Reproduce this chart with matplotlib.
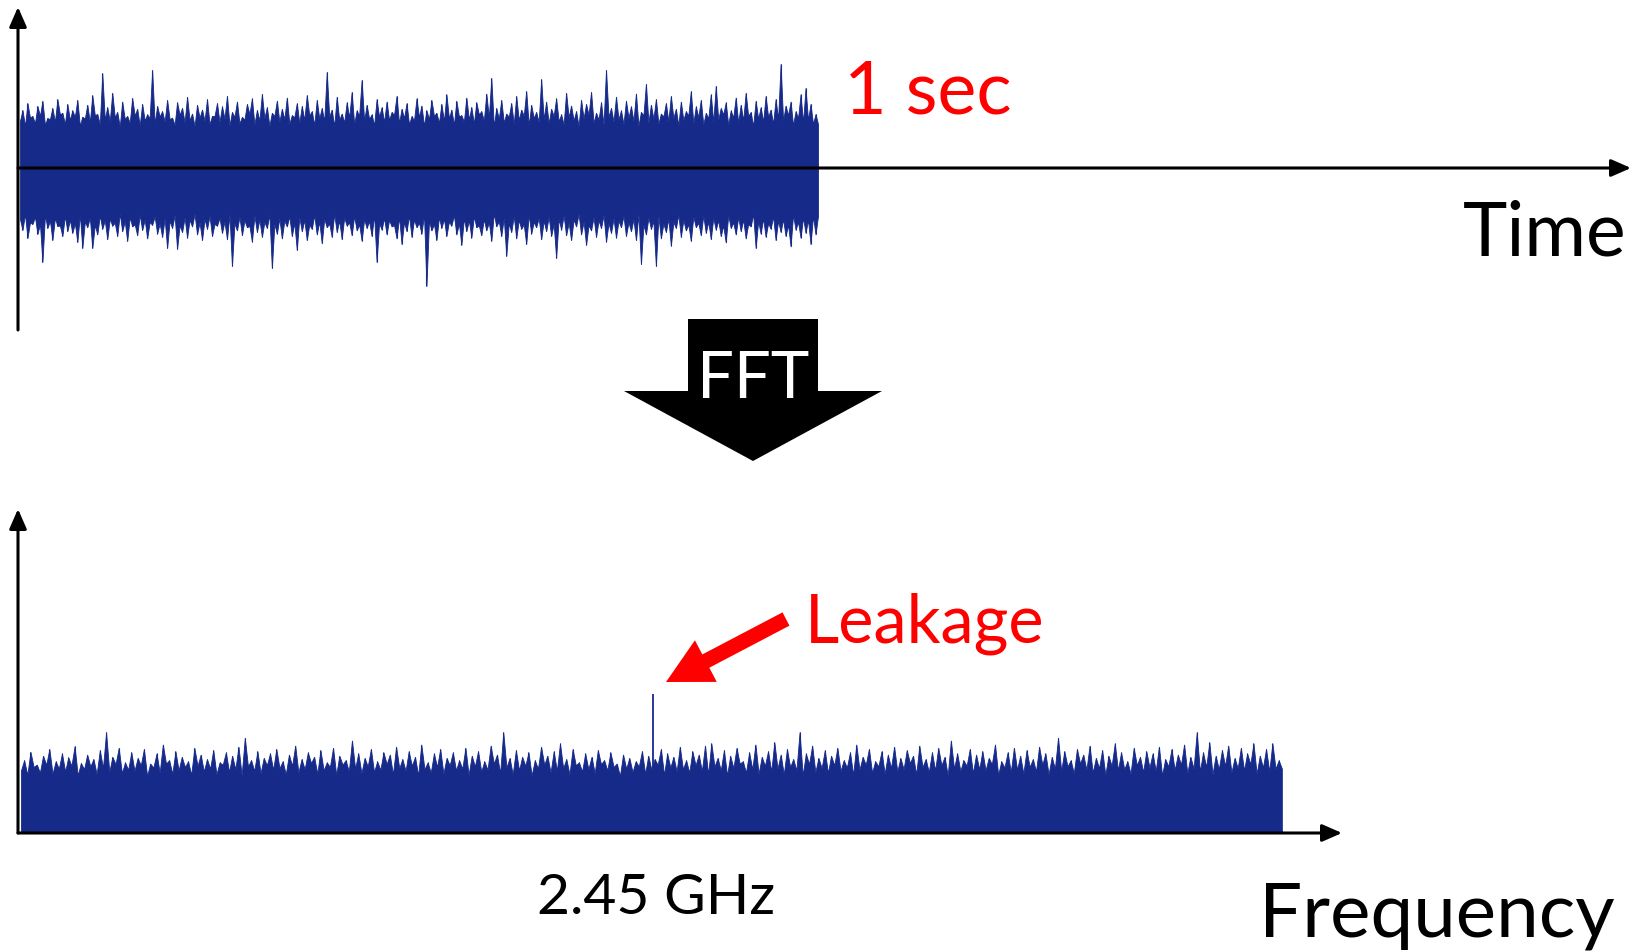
import numpy as np
import matplotlib
matplotlib.use("Agg")
import matplotlib.pyplot as plt
from matplotlib.patches import Polygon, FancyArrow

plt.rcParams['font.family'] = ['Lato', 'DejaVu Sans']

BLUE = '#162a8a'

# time signal: 1 sec of noise, spike tops and the dips between them
duration = 1.0
peaks_pos = [
    1.45, 1.62, 1.30, 1.55, 1.68, 1.25, 1.50, 1.72, 1.38, 1.60,
    1.44, 1.70, 1.28, 1.58, 1.82, 1.35, 2.37, 1.52, 1.88, 1.40,
    1.66, 1.30, 1.75, 1.48, 1.60, 1.34, 2.45, 1.55, 1.42, 1.70,
    1.26, 1.64, 1.50, 1.78, 1.36, 1.58, 1.46, 1.72, 1.30, 1.62,
    1.54, 1.80, 1.40, 1.66, 1.28, 1.60, 1.74, 1.45, 1.85, 1.52,
    1.38, 1.68, 1.48, 1.76, 1.32, 1.62, 1.55, 1.82, 1.42, 1.70,
    1.50, 2.40, 1.46, 1.78, 1.36, 1.64, 1.90, 1.44, 2.20, 1.58,
    1.34, 1.72, 1.52, 1.66, 1.40, 1.80, 1.48, 1.62, 1.30, 1.74,
    1.56, 1.44, 1.70, 1.38, 1.60, 1.84, 1.46, 1.68, 1.32, 1.76,
    1.52, 1.64, 1.42, 1.86, 2.25, 1.50, 1.70, 1.36, 1.62, 1.80,
    1.46, 1.92, 1.58, 1.40, 2.22, 1.66, 1.48, 1.74, 1.34, 1.88,
    1.56, 1.42, 1.70, 1.60, 1.90, 1.38, 1.64, 2.45, 1.50, 1.78,
    1.44, 1.68, 1.54, 1.86, 1.40, 2.10, 1.58, 1.72, 1.36, 1.62,
    1.80, 1.48, 1.66, 1.42, 1.92, 1.54, 1.70, 1.38, 1.84, 2.05,
    1.50, 1.64, 1.44, 1.76, 1.58, 1.88, 1.40, 1.68, 1.52, 1.80,
    1.46, 1.72, 2.60, 1.56, 1.66, 1.42, 1.84, 2.00, 1.60, 1.35,
]
dips_pos = [
    1.18, 1.05, 1.26, 1.12, 1.30, 1.08, 1.22, 1.15, 1.34, 1.10,
    1.20, 1.28, 1.06, 1.24, 1.14, 1.32, 1.09, 1.21, 1.17, 1.27,
    1.04, 1.23, 1.13, 1.31, 1.07, 1.19, 1.25, 1.11, 1.29, 1.16,
    1.22, 1.08, 1.33, 1.14, 1.20, 1.05, 1.26, 1.18, 1.10, 1.30,
    1.15, 1.24, 1.07, 1.28, 1.12, 1.21, 1.35, 1.09, 1.19, 1.25,
    1.06, 1.30, 1.16, 1.22, 1.11, 1.27, 1.13, 1.20, 1.32, 1.08,
    1.24, 1.17, 1.29, 1.05, 1.21, 1.14, 1.26, 1.10, 1.31, 1.18,
    1.23, 1.07, 1.28, 1.15, 1.20, 1.33, 1.12, 1.25, 1.09, 1.19,
    1.27, 1.06, 1.22, 1.30, 1.13, 1.17, 1.24, 1.08, 1.29, 1.16,
    1.21, 1.11, 1.34, 1.18, 1.26, 1.04, 1.23, 1.14, 1.28, 1.10,
    1.20, 1.31, 1.07, 1.25, 1.15, 1.22, 1.12, 1.30, 1.17, 1.09,
    1.27, 1.19, 1.05, 1.24, 1.33, 1.13, 1.21, 1.08, 1.28, 1.16,
    1.22, 1.10, 1.26, 1.18, 1.06, 1.32, 1.14, 1.23, 1.11, 1.29,
    1.17, 1.25, 1.07, 1.20, 1.31, 1.12, 1.27, 1.09, 1.24, 1.15,
    1.21, 1.34, 1.08, 1.26, 1.13, 1.19, 1.30, 1.05, 1.23, 1.16,
    1.28, 1.11, 1.22, 1.18, 1.32, 1.07, 1.25, 1.14, 1.20, 1.10,
]
peaks_neg = [
    1.55, 1.75, 1.40, 1.65, 2.35, 1.50, 1.80, 1.45, 1.70, 1.58,
    1.62, 1.85, 2.00, 1.48, 2.00, 1.66, 1.52, 1.78, 1.44, 1.70,
    1.58, 1.82, 1.46, 1.68, 1.55, 1.76, 1.42, 1.64, 1.72, 2.00,
    1.50, 2.02, 1.60, 1.74, 1.46, 1.66, 1.80, 1.52, 1.70, 1.44,
    1.62, 1.78, 2.45, 1.56, 1.68, 1.48, 1.84, 1.60, 1.72, 1.50,
    2.50, 1.64, 1.76, 1.46, 1.70, 2.05, 1.58, 1.80, 1.52, 1.66,
    1.88, 1.48, 1.72, 1.60, 1.78, 1.44, 1.68, 1.56, 1.82, 1.50,
    1.70, 2.35, 1.54, 1.66, 1.46, 1.76, 1.90, 1.58, 1.72, 1.48,
    1.64, 2.95, 1.56, 1.80, 1.50, 1.70, 1.44, 1.66, 1.92, 1.58,
    1.74, 1.48, 1.68, 1.56, 1.82, 1.46, 1.70, 2.20, 1.60, 1.76,
    1.52, 1.90, 1.64, 1.48, 1.78, 1.58, 1.70, 2.25, 1.54, 1.68,
    1.80, 1.46, 1.66, 1.92, 1.56, 1.72, 1.50, 1.84, 1.62, 1.74,
    1.48, 1.70, 1.58, 1.80, 2.40, 1.66, 1.52, 2.45, 1.76, 1.60,
    1.94, 1.50, 1.72, 1.56, 1.82, 1.48, 1.68, 1.62, 1.78, 1.54,
    1.70, 1.86, 1.50, 1.66, 1.58, 1.76, 1.46, 2.00, 1.64, 1.72,
    1.52, 1.80, 1.60, 1.70, 1.96, 1.54, 1.74, 1.62, 1.90, 1.66,
]
dips_neg = [
    1.28, 1.15, 1.36, 1.22, 1.40, 1.18, 1.32, 1.25, 1.44, 1.20,
    1.30, 1.38, 1.16, 1.34, 1.24, 1.42, 1.19, 1.31, 1.27, 1.37,
    1.14, 1.33, 1.23, 1.41, 1.17, 1.29, 1.35, 1.21, 1.39, 1.26,
    1.32, 1.18, 1.43, 1.24, 1.30, 1.15, 1.36, 1.28, 1.20, 1.40,
    1.25, 1.34, 1.17, 1.38, 1.22, 1.31, 1.45, 1.19, 1.29, 1.35,
    1.16, 1.40, 1.26, 1.32, 1.21, 1.37, 1.23, 1.30, 1.42, 1.18,
    1.34, 1.27, 1.39, 1.15, 1.31, 1.24, 1.36, 1.20, 1.41, 1.28,
    1.33, 1.17, 1.38, 1.25, 1.30, 1.43, 1.22, 1.35, 1.19, 1.29,
    1.37, 1.16, 1.32, 1.40, 1.23, 1.27, 1.34, 1.18, 1.39, 1.26,
    1.31, 1.21, 1.44, 1.28, 1.36, 1.14, 1.33, 1.24, 1.38, 1.20,
    1.30, 1.41, 1.17, 1.35, 1.25, 1.32, 1.22, 1.40, 1.27, 1.19,
    1.37, 1.29, 1.15, 1.34, 1.43, 1.23, 1.31, 1.18, 1.38, 1.26,
    1.32, 1.20, 1.36, 1.28, 1.16, 1.42, 1.24, 1.33, 1.21, 1.39,
    1.27, 1.35, 1.17, 1.30, 1.41, 1.22, 1.37, 1.19, 1.34, 1.25,
    1.31, 1.44, 1.18, 1.36, 1.23, 1.29, 1.40, 1.15, 1.33, 1.26,
    1.38, 1.21, 1.32, 1.28, 1.42, 1.17, 1.35, 1.24, 1.30, 1.20,
]

# spectrum: noise floor with the leakage line at 2.45 GHz
band_end = 4.887   # GHz
spec_peaks = [
    1.30, 1.45, 1.22, 1.38, 1.50, 1.28, 1.42, 1.35, 1.55, 1.25,
    1.40, 1.32, 1.48, 1.80, 1.36, 1.52, 1.26, 1.44, 1.34, 1.50,
    1.24, 1.42, 1.58, 1.30, 1.46, 1.36, 1.28, 1.52, 1.40, 1.32,
    1.48, 1.26, 1.44, 1.38, 1.54, 1.70, 1.30, 1.46, 1.34, 1.42,
    1.50, 1.28, 1.40, 1.56, 1.32, 1.44, 1.36, 1.48, 1.26, 1.52,
    1.38, 1.30, 1.65, 1.42, 1.34, 1.50, 1.28, 1.44, 1.40, 1.54,
    1.32, 1.46, 1.36, 1.58, 1.26, 1.42, 1.50, 1.34, 1.44, 1.30,
    1.52, 1.38, 1.46, 1.28, 1.56, 1.40, 1.80, 1.34, 1.48, 1.36,
    1.44, 1.30, 1.54, 1.38, 1.46, 1.60, 1.32, 1.50, 1.26, 1.42,
    1.36, 1.48, 1.30, 1.44, 1.24, 1.40, 1.34, 1.28, 1.46, 1.38,
    1.32, 1.50, 1.42, 1.36, 1.54, 1.30, 1.46, 1.40, 1.56, 1.60,
    1.34, 1.48, 1.38, 1.52, 1.28, 1.44, 1.58, 1.36, 1.46, 1.62,
    1.40, 1.50, 1.32, 1.80, 1.42, 1.56, 1.34, 1.48, 1.38, 1.52,
    1.30, 1.44, 1.58, 1.36, 1.50, 1.28, 1.46, 1.40, 1.54, 1.34,
    1.48, 1.38, 1.56, 1.32, 1.44, 1.52, 1.36, 1.65, 1.42, 1.30,
    1.50, 1.40, 1.46, 1.34, 1.58, 1.28, 1.44, 1.52, 1.38, 1.48,
    1.32, 1.54, 1.42, 1.36, 1.70, 1.46, 1.30, 1.50, 1.40, 1.56,
    1.34, 1.48, 1.38, 1.60, 1.44, 1.28, 1.52, 1.36, 1.46, 1.42,
    1.54, 1.32, 1.50, 1.40, 1.58, 1.36, 1.80, 1.44, 1.62, 1.38,
    1.48, 1.56, 1.34, 1.52, 1.42, 1.60, 1.38, 1.50, 1.60, 1.30,
]
spec_dips = [
    1.12, 1.04, 1.18, 1.08, 1.22, 1.06, 1.15, 1.10, 1.20, 1.03,
    1.14, 1.19, 1.05, 1.16, 1.09, 1.23, 1.07, 1.13, 1.11, 1.21,
    1.02, 1.17, 1.08, 1.24, 1.06, 1.12, 1.18, 1.04, 1.20, 1.10,
    1.15, 1.05, 1.22, 1.09, 1.14, 1.03, 1.19, 1.11, 1.07, 1.21,
    1.13, 1.16, 1.05, 1.20, 1.08, 1.14, 1.25, 1.06, 1.12, 1.18,
    1.04, 1.22, 1.10, 1.15, 1.07, 1.19, 1.09, 1.13, 1.23, 1.05,
    1.16, 1.11, 1.20, 1.03, 1.14, 1.08, 1.18, 1.06, 1.21, 1.12,
    1.15, 1.04, 1.19, 1.10, 1.13, 1.24, 1.07, 1.17, 1.05, 1.12,
    1.20, 1.03, 1.15, 1.22, 1.08, 1.11, 1.16, 1.05, 1.21, 1.10,
    1.14, 1.07, 1.23, 1.12, 1.18, 1.02, 1.15, 1.09, 1.19, 1.06,
    1.13, 1.22, 1.04, 1.17, 1.10, 1.14, 1.08, 1.21, 1.11, 1.05,
    1.19, 1.12, 1.03, 1.16, 1.24, 1.08, 1.14, 1.06, 1.20, 1.10,
    1.15, 1.05, 1.18, 1.12, 1.03, 1.23, 1.09, 1.16, 1.07, 1.21,
    1.11, 1.17, 1.04, 1.13, 1.22, 1.08, 1.19, 1.06, 1.16, 1.10,
    1.14, 1.25, 1.05, 1.18, 1.09, 1.12, 1.21, 1.03, 1.15, 1.11,
    1.20, 1.07, 1.14, 1.12, 1.23, 1.04, 1.17, 1.09, 1.13, 1.06,
    1.18, 1.10, 1.22, 1.05, 1.15, 1.11, 1.19, 1.07, 1.24, 1.13,
    1.08, 1.16, 1.04, 1.20, 1.12, 1.14, 1.06, 1.21, 1.09, 1.17,
    1.11, 1.03, 1.19, 1.13, 1.22, 1.07, 1.15, 1.10, 1.18, 1.05,
    1.14, 1.20, 1.08, 1.16, 1.12, 1.23, 1.06, 1.17, 1.10, 1.15,
]
leak_freq = 2.45
leak_level = 2.48


def envelope(span, dips, peaks):
    # dip at the start of each slot, spike top in its middle
    k = len(peaks)
    step = span / k
    x = np.empty(2 * k + 1)
    y = np.empty(2 * k + 1)
    x[0:-1:2] = np.arange(k) * step
    x[1::2] = (np.arange(k) + 0.5) * step
    x[-1] = span
    y[0:-1:2] = dips
    y[1::2] = peaks
    y[-1] = dips[-1]
    return x, y


W, H = 1643, 953
fig = plt.figure(figsize=(W / 100, H / 100), dpi=100)

# ---- top: time signal (pixel geometry of the picture)
T0, TS = 20, 798      # px of t=0, px per second
A0, AS = 169, 40      # px of zero line, px per unit
ax1 = fig.add_axes([0, 1 - 345 / H, 1, 345 / H])
ax1.set_xlim((0 - T0) / TS, (W - T0) / TS)
ax1.set_ylim((A0 - 345) / AS, A0 / AS)
ax1.axis('off')

tx, up = envelope(duration, dips_pos, peaks_pos)
_, down = envelope(duration, dips_neg, peaks_neg)
ax1.fill_between(tx, -down, up, color=BLUE, lw=0.6, edgecolor=BLUE)
n = len(peaks_pos)
t = (np.arange(n) + 0.5) * duration / n
ax1.vlines(t, 0, peaks_pos, color=BLUE, lw=0.8)
ax1.vlines(t, -np.array(peaks_neg), 0, color=BLUE, lw=0.8)

arrow = dict(arrowstyle='-|>,head_length=0.8,head_width=0.35', color='black',
             lw=2.2, mutation_scale=15, shrinkA=0, shrinkB=0)
x_ax = (18 - T0) / TS
ax1.annotate('', xy=(x_ax, (A0 - 8) / AS), xytext=(x_ax, (A0 - 331) / AS),
             arrowprops=arrow)
ax1.annotate('', xy=((1631 - T0) / TS, 0), xytext=(x_ax, 0), arrowprops=arrow)

# ---- bottom: spectrum
F0, FS = 21, 258      # px of 0 GHz, px per GHz
B0, BS = 834, 56      # px of zero line, px per unit
ax2 = fig.add_axes([0, 0, 1, (H - 480) / H])
ax2.set_xlim((0 - F0) / FS, (W - F0) / FS)
ax2.set_ylim((B0 - H) / BS, (B0 - 480) / BS)
ax2.axis('off')

fx, fy = envelope(band_end, spec_dips, spec_peaks)
ax2.fill_between(fx, 0, fy, color=BLUE, lw=0.6, edgecolor=BLUE)
m = len(spec_peaks)
f = (np.arange(m) + 0.5) * band_end / m
ax2.vlines(f, 0, spec_peaks, color=BLUE, lw=0.8)
ax2.vlines([leak_freq], 0, [leak_level], color=BLUE, lw=1.3)

fx_ax = (18 - F0) / FS
ax2.annotate('', xy=(fx_ax, (B0 - 510) / BS), xytext=(fx_ax, 0), arrowprops=arrow)
ax2.annotate('', xy=((1342 - F0) / FS, 0), xytext=(fx_ax, 0), arrowprops=arrow)

# ---- overlay in picture pixels for the diagram parts
ov = fig.add_axes([0, 0, 1, 1], facecolor='none')
ov.set_xlim(0, W)
ov.set_ylim(H, 0)
ov.axis('off')

ov.add_patch(Polygon([(688, 320), (818, 320), (818, 392), (882, 392),
                      (753, 462), (624, 392), (688, 392)],
                     closed=True, color='black', lw=0))
ov.text(753, 398, 'FFT', color='white', fontsize=47, ha='center', va='baseline')

ov.add_patch(FancyArrow(786, 620, -120, 63, width=15, head_width=47,
                        head_length=45, length_includes_head=True,
                        color='red', lw=0))

ov.text(844, 114, '1 sec', color='red', fontsize=53, ha='left', va='baseline')
ov.text(1627, 256, 'Time', color='black', fontsize=54, ha='right', va='baseline')
ov.text(805, 643, 'Leakage', color='red', fontsize=48, ha='left', va='baseline')
ov.text(656, 914, '2.45 GHz', color='black', fontsize=41, ha='center', va='baseline')
ov.text(1615, 937, 'Frequency', color='black', fontsize=55, ha='right', va='baseline')

fig.savefig('out.png', dpi=100)
